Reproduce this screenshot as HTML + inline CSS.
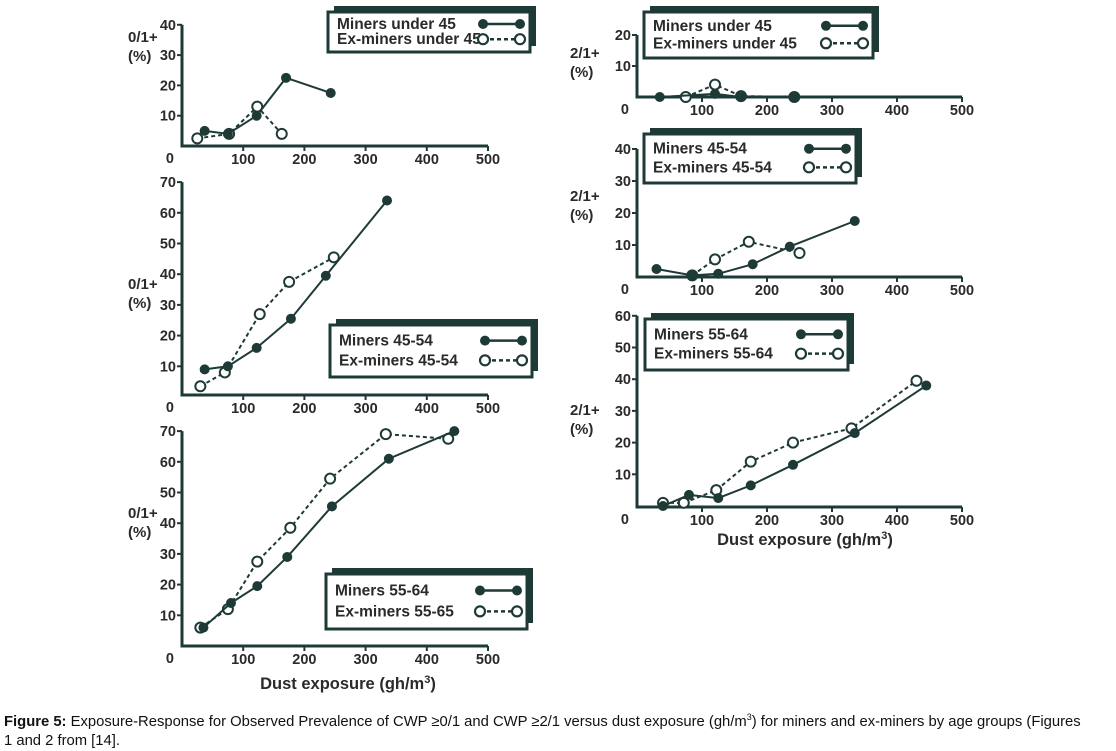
<!DOCTYPE html>
<html><head><meta charset="utf-8"><style>
body{margin:0;background:#fff;width:1116px;height:748px;overflow:hidden;font-family:"Liberation Sans",sans-serif;}
svg{position:absolute;left:0;top:0}
.cap{position:absolute;left:4px;top:708px;width:1085px;font-size:14.8px;line-height:19px;color:#111;}
</style></head><body>
<svg id="chart" width="1116" height="748"></svg>
<div class="cap"><b>Figure 5:</b> Exposure-Response for Observed Prevalence of CWP ≥0/1 and CWP ≥2/1 versus dust exposure (gh/m<sup style="font-size:9px">3</sup>) for miners and ex-miners by age groups (Figures 1 and 2 from [14].</div>
<script>
// Panel A: 0/1+ under 45
const aMinerX=[37,75,122,170,243], aMinerY=[5,4,10,22.5,17.5];
const aExX=[25,77,123,163], aExY=[2.5,4,13,4];
const aYTicks=[10,20,30,40];
// Panel C: 0/1+ 45-54
const cMinerX=[37,75,122,178,235,335], cMinerY=[9,10,16,25.5,39.5,64];
const cExX=[30,70,127,175,248], cExY=[3.5,8,27,37.5,45.5];
const cYTicks=[10,20,30,40,50,60,70];
// Panel E: 0/1+ 55-64
const eMinerX=[35,80,123,172,245,338,445], eMinerY=[6,14,19.5,29,45.5,61,70];
const eExX=[30,75,123,177,242,333,435], eExY=[6,12,27.5,38.5,54.5,69,67.5];
const eYTicks=[10,20,30,40,50,60,70];
// Panel B: 2/1+ under 45
const bMinerX=[35,120,160,242], bMinerY=[0,1,0,0];
const bExX=[75,120,160,242], bExY=[0,4,0.3,0];
const bYTicks=[10,20];
// Panel D: 2/1+ 45-54
const dMinerX=[30,85,125,178,235,335], dMinerY=[2.5,0.5,1,4,9.5,17.5];
const dExX=[85,120,172,250], dExY=[0.5,5.5,11,7.5];
const dYTicks=[10,20,30,40];
// Panel F: 2/1+ 55-64
const fMinerX=[40,80,125,175,240,335,445], fMinerY=[0,3.5,2.5,6.5,13,23,38];
const fExX=[40,72,122,175,240,330,430], fExY=[1,1,5,14,20,24.5,39.5];
const fYTicks=[10,20,30,40,50,60];
const xTicks=[100,200,300,400,500];

const NS="http://www.w3.org/2000/svg", svg=document.getElementById('chart'), C='#1e3a37';
function mk(t,a,p){const e=document.createElementNS(NS,t);for(const k in a)e.setAttribute(k,a[k]);(p||svg).appendChild(e);return e;}
function txt(x,y,s,anchor,size,p){const e=mk('text',{x:x,y:y,'text-anchor':anchor||'start','font-size':size||14,'font-weight':'bold',fill:'#2a2a2a','font-family':'Liberation Sans, sans-serif'},p);e.textContent=s;return e;}

function panel(id,P){
  const g=mk('g',{});
  
  
  const sx=v=>P.x0+v*(P.x1-P.x0)/500, sy=v=>P.y0-v*P.py;
  const ax=mk('path',{d:`M${P.x0} ${sy(P.ymax)} V${P.base} H${P.x1}`,stroke:C,'stroke-width':3,fill:'none'},g);
  
  
  P.yt.forEach(v=>{mk('line',{x1:P.x0-5,x2:P.x0,y1:sy(v),y2:sy(v),stroke:C,'stroke-width':2},g);
    const t=txt(P.x0-6,sy(v)+5,String(v),'end',14.5,g);
    
    });
  const z=txt(P.x0-8,P.base+17,'0','end',14.5,g);
  
  
  xTicks.forEach(v=>{mk('line',{x1:sx(v),x2:sx(v),y1:P.base,y2:P.base+5,stroke:C,'stroke-width':2},g);
    const t=txt(sx(v),P.base+18,String(v),'middle',14.5,g);
    
    });
  const t1=txt(P.tx,P.ty,P.yl,'start',15,g);
  
  
  const t2=txt(P.tx,P.ty+19,'(%)','start',15,g);
  
  
  function series(xs,ys,open,name){
    const pl=mk('polyline',{points:xs.map((v,i)=>sx(v)+','+sy(ys[i])).join(' '),fill:'none',stroke:C,'stroke-width':2,'stroke-dasharray':open?'4,3':'none'},g);
    
    
    xs.forEach((v,i)=>{const c=mk('circle',{cx:sx(v),cy:sy(ys[i]),r:open?5:4,fill:open?'#fff':C,stroke:C,'stroke-width':2},g);
      
      });
  }
  series(P.ex[0],P.ex[1],true,'ex-miners');
  series(P.mi[0],P.mi[1],false,'miners');
  const L=P.lg, lgG=mk('g',{},g);
  
  
  mk('rect',{x:L[0]+6,y:L[1]-6,width:L[2]-L[0],height:L[3]-L[1],fill:C},lgG);
  mk('rect',{x:L[0],y:L[1],width:L[2]-L[0],height:L[3]-L[1],fill:'#fff',stroke:C,'stroke-width':3},lgG);
  const r1=L[1]+(L[3]-L[1])*0.3, r2=L[1]+(L[3]-L[1])*0.68;
  const a=txt(L[0]+9,r1+5,P.n1,'start',15.5,lgG);
  
  
  const b=txt(L[0]+9,r2+5,P.n2,'start',15.5,lgG);
  
  
  const m2=L[2]-10,m1=m2-37;
  mk('line',{x1:m1,x2:m2,y1:r1,y2:r1,stroke:C,'stroke-width':2.5},lgG);
  mk('circle',{cx:m1,cy:r1,r:5,fill:C},lgG);mk('circle',{cx:m2,cy:r1,r:5,fill:C},lgG);
  mk('line',{x1:m1,x2:m2,y1:r2,y2:r2,stroke:C,'stroke-width':2.5,'stroke-dasharray':'4,3'},lgG);
  mk('circle',{cx:m1,cy:r2,r:5,fill:'#fff',stroke:C,'stroke-width':2.2},lgG);
  mk('circle',{cx:m2,cy:r2,r:5,fill:'#fff',stroke:C,'stroke-width':2.2},lgG);
}
panel('panel-a-under-45',{x0:182,x1:488,y0:146,py:3.03,base:146,ymax:40,yt:aYTicks,yl:'0/1+',tx:128,ty:42,
  mi:[aMinerX,aMinerY],ex:[aExX,aExY],lg:[328,12,530,52],n1:'Miners under 45',n2:'Ex-miners under 45'});
panel('panel-c-45-54',{x0:182,x1:488,y0:397,py:3.07,base:395,ymax:70,yt:cYTicks,yl:'0/1+',tx:128,ty:289,
  mi:[cMinerX,cMinerY],ex:[cExX,cExY],lg:[330,325,532,377],n1:'Miners  45-54',n2:'Ex-miners 45-54'});
panel('panel-e-55-64',{x0:182,x1:488,y0:646,py:3.07,base:646,ymax:70,yt:eYTicks,yl:'0/1+',tx:128,ty:518,
  mi:[eMinerX,eMinerY],ex:[eExX,eExY],lg:[326,574,527,629],n1:'Miners  55-64',n2:'Ex-miners 55-65'});
panel('panel-b-under-45',{x0:637,x1:962,y0:97,py:3.1,base:97,ymax:20,yt:bYTicks,yl:'2/1+',tx:570,ty:58,
  mi:[bMinerX,bMinerY],ex:[bExX,bExY],lg:[644,12,873,58],n1:'Miners under 45',n2:'Ex-miners under 45'});
panel('panel-d-45-54',{x0:637,x1:962,y0:277,py:3.2,base:277,ymax:40,yt:dYTicks,yl:'2/1+',tx:570,ty:201,
  mi:[dMinerX,dMinerY],ex:[dExX,dExY],lg:[644,134,856,183],n1:'Miners  45-54',n2:'Ex-miners 45-54'});
panel('panel-f-55-64',{x0:637,x1:962,y0:506,py:3.17,base:507,ymax:60,yt:fYTicks,yl:'2/1+',tx:570,ty:415,
  mi:[fMinerX,fMinerY],ex:[fExX,fExY],lg:[645,319,848,370],n1:'Miners  55-64',n2:'Ex-miners 55-64'});
function xtitle(x,y){const g=mk('text',{x:x,y:y,'text-anchor':'middle','font-size':16.5,'font-weight':'bold',fill:'#2a2a2a','font-family':'Liberation Sans, sans-serif'});
  
  
  g.innerHTML='Dust exposure (gh/m<tspan dy="-6" font-size="11">3</tspan><tspan dy="6">)</tspan>';}
xtitle(348,689);xtitle(805,545);
</script>
</body></html>
